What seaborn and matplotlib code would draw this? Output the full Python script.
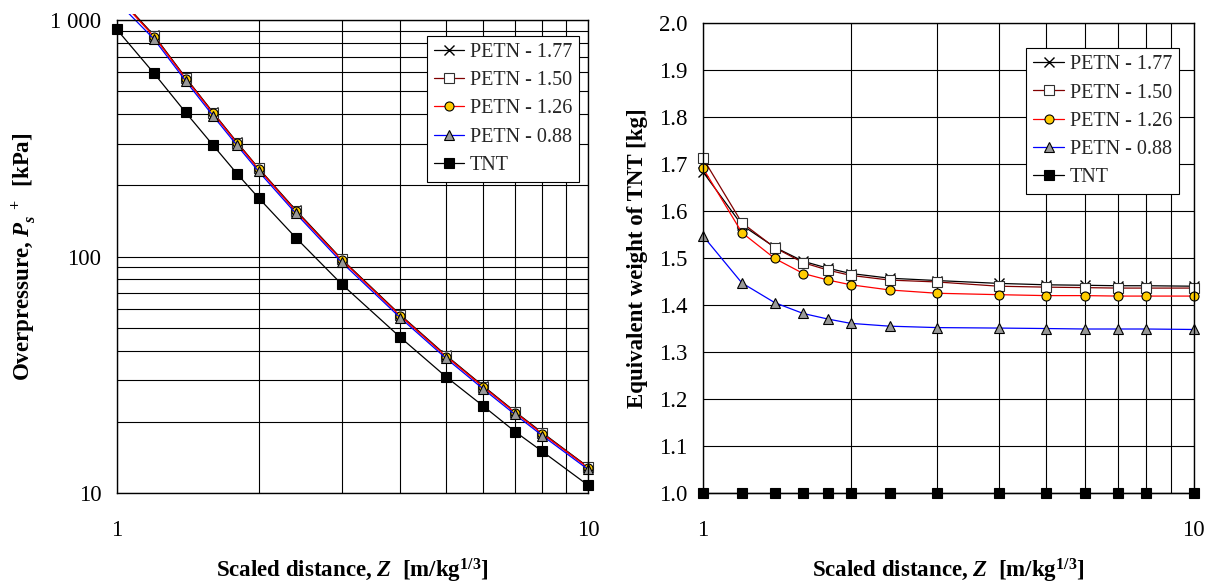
import matplotlib

matplotlib.use("Agg")
import matplotlib.pyplot as plt
import matplotlib.ticker as mtick
from matplotlib.patches import Rectangle
import seaborn as sns

sns.set_theme(style="white")
plt.rcParams["font.family"] = ["Liberation Serif", "DejaVu Serif"]
plt.rcParams["mathtext.fontset"] = "custom"
plt.rcParams["mathtext.rm"] = "Liberation Serif:bold"
plt.rcParams["mathtext.bf"] = "Liberation Serif:bold"
plt.rcParams["mathtext.it"] = "Liberation Serif:italic:bold"

# scaled distance Z [m/kg^1/3]
Z = [1, 1.2, 1.4, 1.6, 1.8, 2.0, 2.4, 3, 4, 5, 6, 7, 8, 10]

# overpressure [kPa]
P_PETN_177 = [1275, 860, 571, 407, 304, 236, 157, 97.6, 56.6, 38.2, 28.3, 22.1, 18.0, 12.9]
P_PETN_150 = [1270, 857, 569, 406, 303, 236, 156, 97.2, 56.4, 38.0, 28.2, 22.0, 17.9, 12.9]
P_PETN_126 = [1260, 850, 565, 403, 301, 234, 155, 96.6, 56.0, 37.8, 28.0, 21.9, 17.8, 12.8]
P_PETN_088 = [1200, 830, 553, 394, 295, 229, 152, 94.6, 55.0, 37.1, 27.5, 21.5, 17.5, 12.6]
P_TNT = [913, 595, 407, 296, 224, 177, 120, 76.5, 45.5, 31.0, 23.3, 18.2, 15.0, 10.8]

# TNT equivalent weight [kg]
W_PETN_177 = [1.683, 1.570, 1.523, 1.493, 1.478, 1.467, 1.457, 1.452, 1.446, 1.443, 1.442, 1.441, 1.441, 1.440]
W_PETN_150 = [1.712, 1.575, 1.522, 1.490, 1.474, 1.463, 1.453, 1.449, 1.440, 1.438, 1.437, 1.436, 1.436, 1.436]
W_PETN_126 = [1.691, 1.554, 1.499, 1.467, 1.453, 1.443, 1.432, 1.425, 1.422, 1.420, 1.420, 1.419, 1.419, 1.419]
W_PETN_088 = [1.547, 1.447, 1.405, 1.382, 1.370, 1.361, 1.355, 1.352, 1.351, 1.350, 1.349, 1.349, 1.349, 1.348]
W_TNT = [1.0, 1.0, 1.0, 1.0, 1.0, 1.0, 1.0, 1.0, 1.0, 1.0, 1.0, 1.0, 1.0, 1.0]

SERIES_NAMES = ["PETN - 1.77", "PETN - 1.50", "PETN - 1.26", "PETN - 0.88", "TNT"]

STYLE = {
    "PETN - 1.77": dict(color="black", marker="x", markersize=6.5, markeredgecolor="black",
                        markeredgewidth=1.0),
    "PETN - 1.50": dict(color="#800000", marker="s", markersize=6.5, markerfacecolor="white",
                        markeredgecolor="#303030", markeredgewidth=0.8),
    "PETN - 1.26": dict(color="#ff0000", marker="o", markersize=6.5, markerfacecolor="#ffcc00",
                        markeredgecolor="black", markeredgewidth=0.8),
    "PETN - 0.88": dict(color="#0000ff", marker="^", markersize=7, markerfacecolor="#999999",
                        markeredgecolor="black", markeredgewidth=0.8),
    "TNT": dict(color="black", marker="s", markersize=6.5, markerfacecolor="black",
                markeredgecolor="black", markeredgewidth=0.8),
}


def _draw_series(ax, values):
    # lines are clipped to a box a bit larger than the axes, like the original
    clip_box = Rectangle((-0.04, -0.04), 1.08, 1.053, transform=ax.transAxes,
                         facecolor="none", edgecolor="none")
    for name, ys in zip(SERIES_NAMES, values):
        sns.lineplot(x=Z, y=ys, ax=ax, label=name, linewidth=0.9, **STYLE[name])
    for line in ax.lines:
        line.set_clip_path(clip_box)


def _style_axes(ax):
    ax.set_xscale("log")
    ax.set_xlim(1, 10)
    ax.set_xticks([1, 10])
    ax.set_xticklabels(["1", "10"])
    ax.xaxis.set_minor_locator(mtick.LogLocator(base=10, subs=range(2, 10), numticks=20))
    ax.xaxis.set_minor_formatter(mtick.NullFormatter())
    ax.grid(True, which="both", color="black", linewidth=0.8)
    ax.tick_params(which="minor", length=0)
    ax.tick_params(which="major", direction="out", length=5, width=0.8, color="black",
                   labelsize=16.5, labelcolor="black")
    ax.tick_params(axis="x", which="major", pad=14)
    ax.tick_params(axis="y", which="major", pad=6)
    for spine in ax.spines.values():
        spine.set_color("black")
        spine.set_linewidth(1.0)
    ax.set_xlabel(r"Scaled distance, $Z$  [m/kg$^{1/3}$]", fontsize=16.5, fontweight="bold",
                  labelpad=12, color="black")


def _legend(ax, anchor):
    leg = ax.legend(loc="upper right", bbox_to_anchor=anchor, borderaxespad=0, fontsize=14.5,
                    frameon=True, fancybox=False, framealpha=1, edgecolor="black",
                    labelspacing=0.45, handlelength=1.5, handletextpad=0.3, borderpad=0.35)
    leg.get_frame().set_linewidth(0.8)


fig = plt.figure(figsize=(12.15, 5.85), dpi=100)

ax1 = fig.add_axes([0.096, 0.157, 0.388, 0.809])
_draw_series(ax1, [P_PETN_177, P_PETN_150, P_PETN_126, P_PETN_088, P_TNT])
ax1.set_yscale("log")
_style_axes(ax1)
ax1.set_ylim(10, 1000)
ax1.set_yticks([10, 100, 1000])
ax1.set_yticklabels(["10", "100", "1 000"])
ax1.yaxis.set_minor_locator(mtick.LogLocator(base=10, subs=range(2, 10), numticks=20))
ax1.yaxis.set_minor_formatter(mtick.NullFormatter())
ax1.tick_params(which="minor", length=0)
ax1.set_ylabel(r"Overpressure, $P_{s}^{\ \ +}$  [kPa]", fontsize=16.5, fontweight="bold",
               labelpad=8, color="black")
_legend(ax1, (0.9815, 0.966))

ax2 = fig.add_axes([0.5786, 0.157, 0.404, 0.804])
_draw_series(ax2, [W_PETN_177, W_PETN_150, W_PETN_126, W_PETN_088, W_TNT])
_style_axes(ax2)
ax2.set_ylim(1.0, 2.0)
ax2.set_yticks([1.0, 1.1, 1.2, 1.3, 1.4, 1.5, 1.6, 1.7, 1.8, 1.9, 2.0])
ax2.set_yticklabels(["1.0", "1.1", "1.2", "1.3", "1.4", "1.5", "1.6", "1.7", "1.8", "1.9", "2.0"])
ax2.set_ylabel("Equivalent weight of TNT [kg]", fontsize=16.5, fontweight="bold",
               labelpad=8, color="black")
_legend(ax2, (0.970, 0.946))

fig.savefig("out.png", dpi=100)
plt.close(fig)
